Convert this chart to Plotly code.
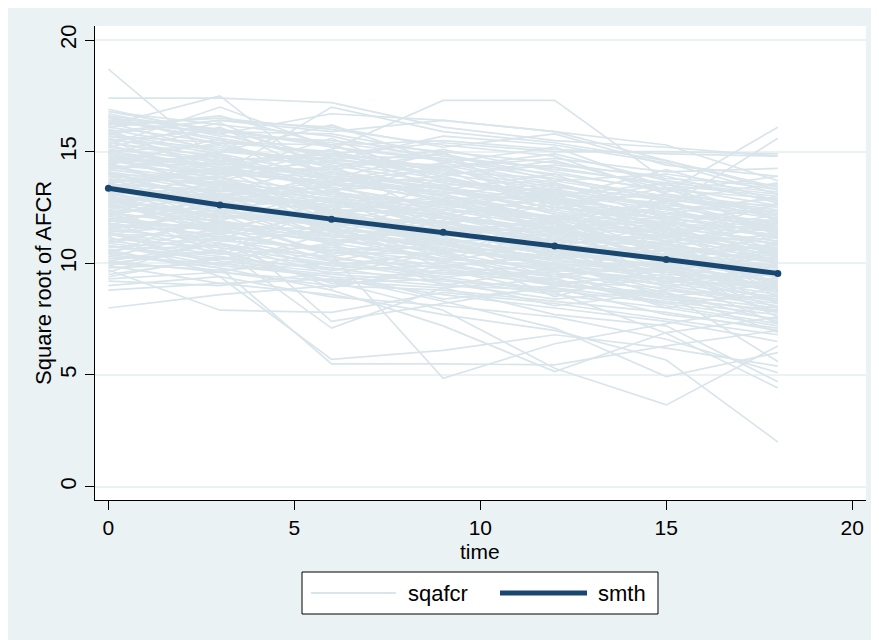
import plotly.graph_objects as go

# ---------------- data ----------------
time_points = [0, 3, 6, 9, 12, 15, 18]

# square root of AFCR per subject at each time point
sqafcr = [
    [18.7, 14.5, 13.8, 13.2, 12.5, 12.0, 11.6],
    [17.4, 17.4, 17.2, 16.1, 15.5, 15.2, 14.8],
    [16.2, 17.5, 13.6, 14.3, 13.0, 12.1, 11.8],
    [14.6, 13.8, 15.1, 17.3, 17.3, 13.7, 13.2],
    [8.0, 8.6, 9.0, 9.6, 9.1, 8.4, 7.9],
    [9.7, 7.9, 7.8, 8.7, 8.2, 7.5, 6.8],
    [11.2, 9.4, 5.7, 6.1, 6.8, 6.2, 5.4],
    [10.4, 9.8, 5.5, 5.5, 5.45, 6.3, 7.0],
    [12.0, 11.5, 10.4, 4.85, 6.4, 7.3, 8.1],
    [10.5, 9.8, 8.8, 7.2, 5.15, 6.9, 7.6],
    [11.3, 10.5, 9.2, 7.9, 5.3, 3.66, 6.3],
    [9.9, 9.1, 8.6, 7.7, 7.0, 5.67, 2.0],
    [10.8, 9.9, 9.4, 8.3, 7.1, 4.93, 6.0],
    [12.8, 12.1, 11.7, 10.9, 10.5, 13.2, 16.1],
    [13.5, 12.9, 12.4, 11.6, 11.0, 12.5, 15.6],
    [15.1, 14.6, 14.9, 14.3, 14.7, 14.1, 14.25],
    [16.6, 16.0, 15.3, 15.5, 15.1, 14.9, 14.8],
    [16.9, 15.8, 16.7, 16.4, 15.9, 14.6, 13.4],
    [15.9, 16.4, 16.1, 15.2, 15.8, 14.4, 13.9],
    [11.6, 10.9, 10.1, 9.4, 8.7, 6.87, 4.42],
    [10.1, 9.6, 9.2, 8.9, 7.7, 7.2, 4.7],
    [9.0, 9.4, 8.5, 8.1, 7.6, 6.6, 5.1],
    [8.8, 9.1, 9.3, 8.6, 8.0, 7.4, 6.5],
    [12.4, 10.7, 7.1, 8.9, 9.3, 8.1, 7.3],
    [13.0, 11.8, 7.4, 8.2, 9.0, 8.7, 5.6],
    [14.2, 13.6, 12.8, 12.1, 11.5, 10.8, 10.3],
    [13.1, 12.5, 12.9, 11.7, 10.9, 10.2, 9.4],
    [12.5, 11.9, 11.2, 10.8, 10.3, 9.6, 8.9],
    [15.3, 14.1, 13.5, 13.9, 12.6, 11.8, 11.2],
    [11.8, 11.2, 10.6, 10.1, 9.5, 9.8, 8.7],
    [10.9, 10.3, 9.7, 9.9, 9.1, 8.5, 7.8],
    [16.4, 15.6, 14.8, 14.2, 13.4, 12.9, 12.3],
    [14.8, 13.3, 12.6, 12.9, 11.8, 11.1, 10.6],
    [13.7, 13.9, 12.2, 11.4, 11.9, 10.5, 9.9],
    [12.2, 12.8, 11.5, 10.6, 10.0, 9.3, 9.7],
    [9.5, 10.2, 9.8, 9.1, 8.4, 8.8, 8.1],
    [15.7, 14.9, 13.9, 13.1, 13.6, 12.4, 11.5],
    [14.5, 14.8, 13.1, 12.4, 11.6, 11.9, 10.8],
    [13.3, 12.3, 11.9, 11.1, 10.4, 9.9, 9.2],
    [11.4, 11.7, 10.9, 10.2, 9.8, 9.0, 8.3],
    [16.8, 16.2, 15.7, 14.6, 14.0, 13.3, 12.9],
    [10.6, 10.8, 10.3, 9.5, 9.6, 8.7, 7.4],
    [12.9, 12.0, 12.3, 11.3, 10.7, 10.1, 9.5],
    [14.0, 13.2, 13.4, 12.6, 12.0, 11.4, 10.9],
    [15.5, 15.2, 14.4, 13.6, 12.9, 12.2, 11.9],
    [12.7, 13.1, 11.4, 10.9, 10.2, 10.6, 9.1],
    [11.0, 10.4, 10.8, 9.7, 9.3, 8.2, 8.6],
    [13.9, 13.5, 12.7, 12.3, 11.2, 10.7, 10.1],
    [14.4, 14.0, 13.7, 12.8, 12.4, 11.6, 11.0],
    [16.1, 15.4, 15.0, 14.1, 13.8, 13.0, 12.4],
    [10.3, 10.0, 9.5, 9.2, 8.9, 8.3, 7.7],
    [12.3, 11.6, 11.0, 11.5, 10.6, 9.7, 9.0],
    [13.6, 12.7, 12.1, 11.8, 11.3, 10.4, 10.8],
    [15.0, 14.3, 14.2, 13.3, 12.7, 12.0, 11.4],
    [11.7, 11.3, 10.5, 9.9, 10.3, 9.4, 8.8],
    [14.9, 14.4, 13.3, 13.5, 12.2, 11.5, 11.7],
    [13.2, 13.0, 12.5, 11.0, 11.1, 10.3, 9.6],
    [12.6, 12.2, 11.8, 11.2, 10.1, 9.9, 10.4],
    [10.0, 9.7, 10.0, 9.3, 8.6, 8.0, 7.2],
    [16.3, 15.9, 15.4, 14.8, 14.2, 13.6, 13.1],
    [14.1, 13.4, 12.9, 12.5, 11.7, 11.2, 10.5],
    [11.5, 11.0, 10.7, 10.4, 9.4, 9.1, 8.5],
    [13.8, 13.1, 12.6, 12.0, 11.4, 10.9, 10.0],
    [12.1, 11.4, 11.1, 10.5, 10.8, 9.5, 9.3],
    [15.6, 14.7, 14.5, 13.8, 13.1, 12.7, 12.0],
    [14.7, 14.2, 13.8, 13.0, 12.3, 11.7, 11.3],
    [10.7, 11.1, 10.2, 9.8, 9.0, 8.6, 8.0],
    [13.4, 12.8, 12.0, 11.5, 11.8, 10.6, 10.2],
    [12.0, 12.4, 11.3, 10.7, 9.9, 10.0, 9.4],
    [15.2, 14.5, 14.0, 13.4, 12.8, 12.3, 11.6],
    [11.9, 11.5, 11.6, 10.3, 9.7, 9.2, 8.9],
    [14.3, 13.7, 13.0, 12.7, 12.1, 11.3, 10.7],
    [13.0, 12.6, 11.7, 11.9, 10.9, 10.4, 9.8],
    [16.0, 15.1, 14.6, 14.4, 13.5, 12.8, 12.6],
    [9.3, 9.6, 9.0, 8.8, 8.3, 7.8, 7.0],
    [12.4, 12.1, 11.9, 11.0, 10.5, 9.8, 9.2],
    [14.6, 14.1, 13.6, 12.9, 13.0, 12.1, 11.1],
    [13.5, 13.3, 12.4, 12.2, 11.5, 11.0, 10.4],
    [11.1, 10.7, 10.0, 10.0, 9.2, 8.9, 8.2],
    [15.8, 15.0, 14.7, 14.0, 13.3, 12.6, 12.2],
    [12.8, 12.3, 12.2, 11.4, 10.8, 10.3, 9.7],
    [10.2, 10.5, 9.9, 9.6, 9.5, 8.4, 7.9],
    [14.0, 13.8, 13.2, 12.0, 11.6, 11.5, 10.6],
    [13.3, 12.9, 12.8, 11.6, 11.2, 10.0, 9.5],
    [11.6, 11.8, 11.3, 10.8, 10.0, 9.6, 9.0],
    [15.4, 14.6, 13.8, 13.7, 13.2, 12.5, 11.8],
    [12.6, 11.7, 11.5, 11.1, 10.4, 10.2, 9.9],
    [16.7, 15.7, 15.5, 15.0, 14.5, 13.8, 13.5],
    [13.7, 13.0, 12.3, 12.4, 11.9, 11.3, 10.9],
    [10.8, 10.1, 9.6, 9.4, 9.7, 9.3, 8.4],
    [14.3, 14.5, 13.9, 13.2, 12.5, 11.8, 11.5],
    [12.2, 11.9, 11.0, 10.6, 10.2, 9.4, 8.6],
    [15.0, 15.3, 14.1, 13.5, 13.7, 12.9, 12.1],
    [11.3, 11.2, 10.6, 10.7, 9.9, 9.0, 9.2],
    [13.9, 13.6, 13.1, 12.6, 12.0, 11.6, 11.0],
    [9.8, 10.0, 9.4, 9.0, 8.8, 8.2, 7.5],
    [14.8, 14.3, 13.5, 13.2, 12.7, 12.2, 11.7],
    [12.9, 12.7, 12.1, 11.8, 11.0, 10.8, 10.1],
    [16.5, 16.0, 15.2, 14.7, 14.3, 13.5, 13.0],
    [11.9, 11.6, 11.2, 10.9, 10.1, 9.7, 8.7],
    [13.1, 14.6, 12.0, 13.5, 11.3, 12.6, 10.2],
    [15.6, 13.2, 14.4, 12.0, 13.1, 10.9, 12.0],
    [10.4, 12.3, 10.9, 12.1, 9.6, 11.0, 8.5],
    [12.3, 10.5, 12.6, 10.4, 11.9, 9.1, 10.7],
    [14.9, 16.1, 13.8, 15.0, 12.4, 13.4, 11.3],
    [11.7, 13.0, 11.6, 10.0, 12.2, 10.5, 9.6],
    [16.0, 14.0, 15.6, 13.6, 12.9, 14.2, 12.8],
    [9.6, 11.2, 9.7, 10.6, 8.5, 9.9, 7.6],
    [13.6, 11.9, 13.3, 11.7, 12.8, 10.6, 11.9],
    [12.5, 13.7, 11.8, 12.9, 10.7, 11.7, 9.0],
    [15.2, 16.3, 14.2, 14.9, 13.9, 12.8, 13.6],
    [10.9, 11.9, 10.4, 11.3, 10.6, 9.1, 9.9],
    [14.1, 12.6, 14.1, 12.8, 11.4, 12.9, 10.9],
    [12.1, 13.3, 12.5, 10.8, 11.7, 10.0, 10.6],
    [11.4, 9.9, 11.4, 10.1, 10.9, 8.9, 9.7],
    [16.2, 16.5, 16.0, 15.3, 14.8, 13.1, 12.5],
    [13.4, 14.3, 12.7, 12.4, 13.4, 11.4, 10.3],
    [10.1, 10.9, 8.9, 9.9, 9.4, 10.2, 8.8],
    [14.5, 13.0, 13.7, 14.2, 12.3, 11.1, 12.7],
    [12.7, 11.3, 12.2, 11.5, 10.3, 11.4, 9.3],
    [15.3, 17.0, 15.2, 14.6, 13.8, 13.0, 12.3],
    [15.8, 16.4, 15.9, 16.4, 15.9, 15.3, 13.7],
    [14.2, 15.0, 14.6, 15.7, 15.3, 14.5, 13.1],
    [16.5, 15.5, 14.9, 15.4, 15.0, 15.0, 14.9],
    [13.9, 14.0, 17.0, 15.9, 15.4, 14.6, 13.3],
    [13.8, 12.2, 13.6, 11.8, 12.6, 10.9, 11.8],
    [11.2, 12.6, 10.8, 11.9, 10.2, 10.9, 8.9],
    [15.9, 14.2, 15.1, 13.3, 14.0, 12.2, 13.0],
    [10.5, 11.6, 10.1, 11.0, 9.3, 10.1, 8.2],
    [14.4, 15.6, 13.2, 14.4, 12.6, 13.6, 11.2],
    [12.9, 11.4, 12.8, 11.2, 12.1, 10.3, 11.2],
    [16.3, 15.0, 16.2, 14.5, 15.2, 13.4, 12.6],
    [9.9, 10.9, 9.5, 10.5, 9.0, 9.7, 8.0],
    [13.3, 14.7, 13.4, 12.5, 13.2, 11.9, 10.8],
    [11.8, 10.4, 11.9, 10.9, 9.8, 10.6, 9.4],
    [15.1, 13.7, 14.8, 14.7, 13.1, 12.4, 12.9],
    [12.4, 13.5, 12.9, 11.6, 11.4, 10.7, 10.0],
    [14.7, 13.5, 12.4, 13.8, 12.9, 11.6, 10.4],
    [10.6, 9.6, 10.6, 9.5, 10.0, 8.5, 9.1],
    [13.0, 13.9, 11.4, 12.3, 11.1, 11.8, 9.9],
    [16.6, 15.3, 14.3, 15.1, 14.1, 13.2, 13.9],
    [11.5, 12.4, 11.7, 9.8, 10.5, 9.9, 8.7],
    [14.0, 12.9, 13.9, 13.0, 11.9, 12.7, 11.4],
    [12.2, 11.1, 12.4, 12.2, 11.5, 9.7, 10.3],
    [15.5, 16.0, 14.7, 13.9, 14.6, 13.3, 12.2],
    [9.4, 10.3, 9.2, 9.7, 8.7, 9.4, 7.3],
    [13.5, 12.4, 11.6, 12.7, 11.8, 10.1, 10.9],
    [14.9, 13.9, 14.3, 12.7, 13.5, 12.5, 11.1],
    [11.0, 11.8, 10.5, 10.4, 9.1, 9.5, 7.8],
    [16.1, 16.6, 15.3, 14.0, 14.4, 13.9, 12.7],
    [12.6, 13.6, 12.0, 11.9, 10.9, 11.2, 10.5],
    [13.9, 12.8, 13.5, 13.4, 12.2, 11.0, 11.6],
    [10.3, 11.4, 11.1, 10.2, 9.9, 8.8, 8.4],
    [15.4, 14.8, 13.7, 14.5, 13.6, 12.0, 12.4],
    [12.0, 11.0, 11.5, 11.3, 10.6, 10.4, 9.1],
    [14.6, 15.4, 14.0, 13.3, 12.7, 13.1, 12.0],
    [11.3, 10.8, 9.9, 10.5, 9.6, 8.0, 8.9],
    [13.2, 12.0, 12.9, 12.1, 11.0, 11.3, 10.0],
    [16.8, 15.9, 15.8, 14.9, 13.7, 14.0, 13.3],
    [10.0, 10.6, 9.1, 9.3, 8.1, 8.7, 6.9],
    [14.2, 14.9, 13.0, 12.2, 12.9, 11.2, 12.2],
    [12.8, 11.6, 12.4, 10.9, 11.3, 10.9, 9.0],
    [15.7, 15.4, 15.3, 13.7, 13.0, 13.6, 11.9],
    [11.6, 12.2, 10.3, 11.1, 10.4, 9.2, 9.5],
    [13.6, 14.2, 12.2, 13.1, 12.0, 12.0, 10.6],
    [9.2, 9.0, 9.6, 8.4, 8.9, 7.7, 7.1],
    [14.8, 14.0, 14.6, 13.0, 12.0, 12.8, 11.5],
    [12.5, 12.9, 11.2, 11.4, 11.6, 10.1, 10.9],
    [16.4, 15.8, 14.5, 14.3, 14.9, 13.7, 12.8],
    [10.8, 10.2, 10.9, 9.0, 9.8, 9.6, 8.3],
    [13.1, 13.4, 12.3, 12.8, 11.5, 10.8, 11.3],
    [15.0, 14.4, 14.9, 13.9, 12.8, 11.7, 12.6],
    [11.9, 12.7, 11.8, 10.5, 10.7, 10.2, 9.8],
    [14.4, 13.1, 13.2, 12.6, 13.3, 11.5, 10.1],
    [12.3, 12.5, 10.9, 11.7, 10.5, 10.7, 8.8],
]

# smoothed mean curve
smth = [13.36, 12.61, 11.98, 11.39, 10.78, 10.17, 9.55]

x_ticks = [0, 5, 10, 15, 20]
y_ticks = [0, 5, 10, 15, 20]

# ---------------- styling ----------------
OFF = 8                       # page margin of the browser body
W, H = 879 - OFF, 640 - OFF   # figure size so it fits the window
PL, PR, PT, PB = 95, 866, 26, 500  # plot area in page px
LIGHT = "#D9E5EB"
DARK = "#1A476F"
BG = "#EAF2F3"
FONT = "Liberation Sans, Arial, sans-serif"


def px_x(px):
    return (px - PL) / (PR - PL)


def px_y(py):
    return (PB - py) / (PB - PT)


xs, ys = [], []
for subj in sqafcr:
    xs.extend(time_points + [None])
    ys.extend(subj + [None])

fig = go.Figure()
fig.add_trace(go.Scatter(
    x=xs, y=ys, mode="lines", name="sqafcr",
    line=dict(color=LIGHT, width=1.7), showlegend=False, hoverinfo="skip",
))
fig.add_trace(go.Scatter(
    x=time_points, y=smth, mode="lines+markers", name="smth",
    line=dict(color=DARK, width=5), marker=dict(color=DARK, size=7),
    showlegend=False,
))

shapes = [
    # legend box
    dict(type="rect", xref="paper", yref="paper", x0=px_x(302), x1=px_x(658),
         y0=px_y(614), y1=px_y(572), fillcolor="white",
         line=dict(color="black", width=1)),
    dict(type="line", xref="paper", yref="paper", x0=px_x(311), x1=px_x(396),
         y0=px_y(593), y1=px_y(593), line=dict(color=LIGHT, width=2)),
    dict(type="line", xref="paper", yref="paper", x0=px_x(500), x1=px_x(587),
         y0=px_y(593), y1=px_y(593), line=dict(color=DARK, width=5)),
]

annotations = [
    dict(text="sqafcr", xref="paper", yref="paper", x=px_x(406), y=px_y(593),
         xanchor="left", yanchor="middle", showarrow=False,
         font=dict(size=22, color="black", family=FONT)),
    dict(text="smth", xref="paper", yref="paper", x=px_x(596), y=px_y(593),
         xanchor="left", yanchor="middle", showarrow=False,
         font=dict(size=22, color="black", family=FONT)),
    # axis titles
    dict(text="time", xref="paper", yref="paper", x=px_x(480), y=px_y(551),
         xanchor="center", yanchor="middle", showarrow=False,
         font=dict(size=21, color="black", family=FONT)),
    dict(text="Square root of AFCR", xref="paper", yref="paper", x=px_x(44),
         y=px_y(283), xanchor="center", yanchor="middle", showarrow=False,
         textangle=-90, font=dict(size=22, color="black", family=FONT)),
]

fig.update_layout(
    width=W, height=H,
    margin=dict(l=PL - OFF, r=879 - PR, t=PT - OFF, b=640 - PB, pad=0),
    paper_bgcolor=BG, plot_bgcolor="white",
    font=dict(family=FONT, size=22, color="black"),
    shapes=shapes, annotations=annotations,
    xaxis=dict(
        range=[-0.36, 20.37], tickvals=x_ticks, ticktext=[str(v) for v in x_ticks],
        showgrid=False, zeroline=False, showline=True, linecolor="black", linewidth=1,
        ticks="outside", ticklen=9, tickcolor="black", tickwidth=1,
        tickfont=dict(size=21), automargin=False,
    ),
    yaxis=dict(
        range=[-0.6, 20.63], tickvals=y_ticks, ticktext=[str(v) for v in y_ticks],
        showgrid=True, gridcolor=BG, gridwidth=2, zeroline=False,
        showline=True, linecolor="black", linewidth=1,
        ticks="outside", ticklen=9, tickcolor="black", tickwidth=1,
        tickangle=-90, tickfont=dict(size=22), automargin=False,
    ),
)

fig.write_html("out.html")
